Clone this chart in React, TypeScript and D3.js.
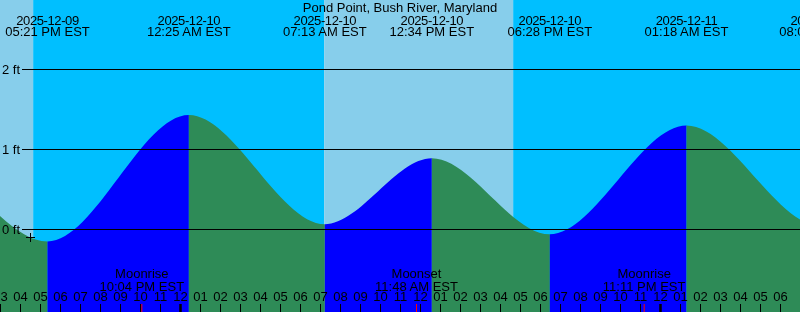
import React from "react";
import * as d3 from "d3";

const W = 800;
const H = 312;

const title = "Pond Point, Bush River, Maryland";

// Tide extremes (local EST)
const tideTimes = [
  "2025-12-09 04:20",
  "2025-12-09 10:51",
  "2025-12-09 17:21",
  "2025-12-10 00:25",
  "2025-12-10 07:13",
  "2025-12-10 12:34",
  "2025-12-10 18:28",
  "2025-12-11 01:18",
  "2025-12-11 08:02",
  "2025-12-11 13:50",
];
const tideHeights = [0.1, 0.9, -0.15, 1.43, 0.066, 0.89, -0.06, 1.3, 0.04, 0.85];

// Sun events
const sunTimes = ["2025-12-09 16:38", "2025-12-10 07:11", "2025-12-10 16:38"];
const sunEvents = ["sunset", "sunrise", "sunset"];

// Moon events
const moonTimes = ["2025-12-09 22:04", "2025-12-10 11:48", "2025-12-10 23:11"];
const moonEvents = ["Moonrise", "Moonset", "Moonrise"];

// Height grid (feet)
const gridFeet = [0, 1, 2];

// Current time marker
const nowTime = "2025-12-09 16:30";
const nowHeight = -0.1;

const parse = d3.utcParse("%Y-%m-%d %H:%M");
const fmtDate = d3.utcFormat("%Y-%m-%d");
const fmtTime = d3.utcFormat("%I:%M %p EST");
const fmtHour = d3.utcFormat("%I");

const start = new Date(Date.UTC(2025, 11, 9, 14, 58, 30));
const end = new Date(start.getTime() + 40 * 3600 * 1000);

const x = d3.scaleUtc().domain([start, end]).range([0, W]);
const y = d3.scaleLinear().domain([0, 1]).range([229.5, 149.5]);

const FONT = "'Liberation Sans', Arial, sans-serif";
const DAY = "#87CEEB";
const NIGHT = "#00BFFF";
const RISE = "#0000FF";
const FALL = "#2E8B57";

export default function App() {
  const tides = tideTimes.map((t, i) => ({ t: parse(t)!, h: tideHeights[i] }));
  const area = d3
    .area<{ t: Date; h: number }>()
    .x((d) => x(d.t))
    .y0(H)
    .y1((d) => y(d.h))
    .curve(d3.curveMonotoneX);
  const areaPath = area(tides) || "";

  // sky segments
  const bounds = [start, ...sunTimes.map((s) => parse(s)!), end];
  const skySegs = [];
  for (let i = 0; i < bounds.length - 1; i++) {
    let isDay: boolean;
    if (i < sunEvents.length) isDay = sunEvents[i] === "sunset";
    else isDay = sunEvents[sunEvents.length - 1] === "sunrise";
    skySegs.push({ a: bounds[i], b: bounds[i + 1], day: isDay });
  }

  const hours = d3.utcHour.range(start, end);
  const moons = moonTimes.map((t, i) => ({ t: parse(t)!, name: moonEvents[i] }));
  const nowT = parse(nowTime)!;

  return (
    <svg
      width={W}
      height={H}
      style={{ position: "fixed", left: 0, top: 0, display: "block" }}
      fontFamily={FONT}
      fontSize={13}
    >
      <defs>
        {tides.slice(0, -1).map((d, i) => (
          <clipPath id={`seg${i}`} key={i}>
            <rect
              x={x(d.t)}
              y={0}
              width={x(tides[i + 1].t) - x(d.t)}
              height={H}
            />
          </clipPath>
        ))}
      </defs>
      {skySegs.map((s, i) => (
        <rect
          key={i}
          x={x(s.a)}
          y={0}
          width={x(s.b) - x(s.a)}
          height={H}
          fill={s.day ? DAY : NIGHT}
        />
      ))}
      {tides.slice(0, -1).map((d, i) => (
        <path
          key={i}
          d={areaPath}
          clipPath={`url(#seg${i})`}
          fill={tides[i + 1].h > d.h ? RISE : FALL}
        />
      ))}
      {gridFeet.map((f) => (
        <g key={f}>
          <line x1={22} x2={W} y1={y(f)} y2={y(f)} stroke="#000" strokeWidth={1} />
          <text x={2} y={y(f) + 4} fill="#000">
            {`${f} ft`}
          </text>
        </g>
      ))}
      <text x={W / 2} y={12} textAnchor="middle" fill="#000">
        {title}
      </text>
      {tides.map((d, i) => (
        <g key={i}>
          <text x={x(d.t)} y={24.5} textAnchor="middle" fill="#000" letterSpacing={-0.4}>
            {fmtDate(d.t)}
          </text>
          <text x={x(d.t)} y={36} textAnchor="middle" fill="#000">
            {fmtTime(d.t)}
          </text>
        </g>
      ))}
      {moons.map((m, i) => (
        <g key={i}>
          <text x={x(m.t)} y={278} textAnchor="middle" fill="#000">
            {m.name}
          </text>
          <text x={x(m.t)} y={290.5} textAnchor="middle" fill="#000">
            {fmtTime(m.t)}
          </text>
        </g>
      ))}
      {hours.map((h, i) => {
        const mid = h.getUTCHours() === 0;
        const w = mid ? 2.5 : 1;
        return (
          <g key={i}>
            <text x={x(h)} y={301} textAnchor="middle" fill="#000">
              {fmtHour(h)}
            </text>
            <rect x={x(h) - w / 2} y={304} width={w} height={8} fill="#000" />
          </g>
        );
      })}
      {moons.map((m, i) => (
        <rect key={i} x={x(m.t) - 0.5} y={304} width={1} height={8} fill="#FF0000" />
      ))}
      <g stroke="#000" strokeWidth={1}>
        <line x1={x(nowT) - 4.5} x2={x(nowT) + 4.5} y1={y(nowHeight)} y2={y(nowHeight)} />
        <line x1={x(nowT)} x2={x(nowT)} y1={y(nowHeight) - 4.5} y2={y(nowHeight) + 4.5} />
      </g>
    </svg>
  );
}
